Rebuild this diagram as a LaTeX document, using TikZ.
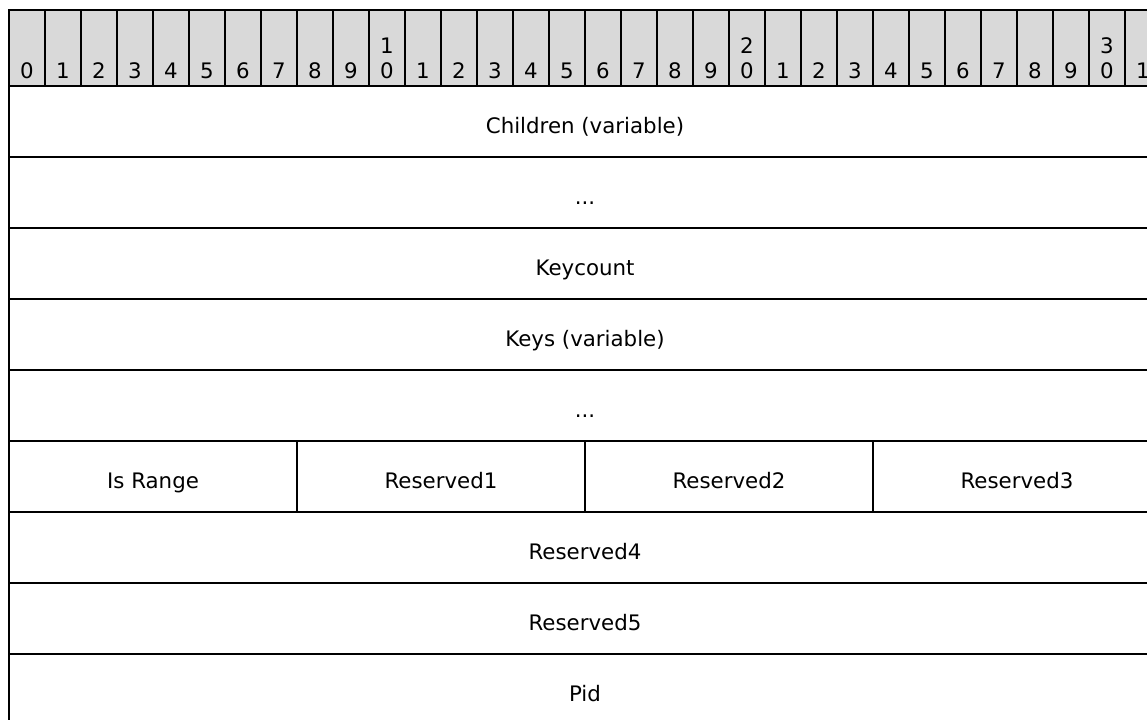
\documentclass[tikz,border=0pt]{standalone}
\usepackage{fontspec}
\setmainfont{DejaVu Sans}
\definecolor{hdrgray}{RGB}{217,217,217}
\begin{document}
\begin{tikzpicture}[x=0.75pt,y=-0.75pt,
  every node/.style={font=\fontsize{16}{19}\selectfont},
  hcell/.style={draw,line width=1.1pt,fill=hdrgray,minimum width=27pt,minimum height=57pt,inner sep=0pt},
  digit/.style={anchor=base,inner sep=0pt},
  field/.style={draw,line width=1.1pt,minimum height=53.25pt,inner sep=0pt,text height=18pt,text depth=0pt},
  wide/.style={field,minimum width=864pt},
  quarter/.style={field,minimum width=216pt}]
\useasboundingbox (0,0) rectangle (1147,719);
\clip (0,0) rectangle (1147,719);

% bit ruler
\foreach \i in {0,...,31}{
  \pgfmathtruncatemacro\lo{mod(\i,10)}
  \pgfmathtruncatemacro\hi{div(\i,10)}
  \node[hcell] (hdr\i) at (27+36*\i,48) {};
  \node[digit] (bit\i) at (27+36*\i,78) {\lo};
  \ifnum\lo=0 \ifnum\i>0
    \node[digit] (tens\i) at (27+36*\i,53) {\hi};
  \fi\fi
}

% fields
\node[wide] (children) at (585,121.5) {Children (variable)};
\node[wide] (more1) at (585,192.5) {...};
\node[wide] (keycount) at (585,263.5) {Keycount};
\node[wide] (keys) at (585,334.5) {Keys (variable)};
\node[wide] (more2) at (585,405.5) {...};
\node[quarter] (isrange) at (153,476.5) {Is Range};
\node[quarter] (res1) at (441,476.5) {Reserved1};
\node[quarter] (res2) at (729,476.5) {Reserved2};
\node[quarter] (res3) at (1017,476.5) {Reserved3};
\node[wide] (res4) at (585,547.5) {Reserved4};
\node[wide] (res5) at (585,618.5) {Reserved5};
\node[wide] (pid) at (585,689.5) {Pid};
\end{tikzpicture}
\end{document}
